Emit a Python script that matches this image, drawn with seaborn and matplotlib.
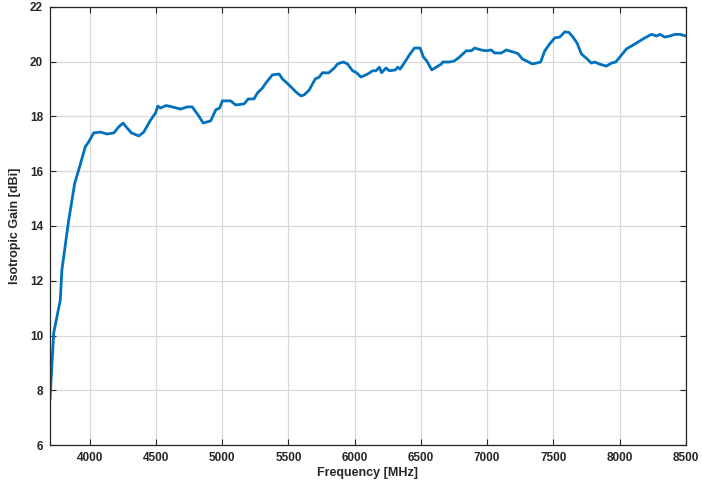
import numpy as np
import pandas as pd
import seaborn as sns
import matplotlib
matplotlib.use("Agg")
import matplotlib.pyplot as plt

# values
freq_mhz = [3700, 3728, 3778, 3790, 3841, 3887, 3917, 3967, 3992, 4030,
            4081, 4131, 4182, 4219, 4252, 4275, 4315, 4371, 4408, 4459,
            4497, 4514, 4535, 4577, 4623, 4686, 4736, 4774, 4819, 4857,
            4913, 4951, 4981, 5001, 5064, 5102, 5165, 5197, 5240, 5266,
            5304, 5329, 5379, 5430, 5455, 5505, 5556, 5594, 5619, 5657,
            5702, 5732, 5757, 5803, 5846, 5871, 5914, 5946, 5984, 6014,
            6047, 6098, 6135, 6161, 6186, 6203, 6237, 6262, 6307, 6325,
            6343, 6375, 6413, 6451, 6494, 6519, 6544, 6582, 6615, 6653,
            6665, 6715, 6753, 6791, 6842, 6880, 6905, 6955, 6993, 7031,
            7056, 7107, 7145, 7194, 7232, 7266, 7296, 7341, 7371, 7404,
            7434, 7472, 7510, 7548, 7586, 7618, 7648, 7679, 7712, 7749,
            7787, 7812, 7850, 7900, 7938, 7971, 8001, 8052, 8102, 8153,
            8190, 8241, 8279, 8304, 8342, 8380, 8418, 8456, 8500]
gain_dbi = [7.65, 10.09, 11.3, 12.4, 14.2, 15.57, 16.05, 16.9, 17.07, 17.4,
            17.43, 17.36, 17.4, 17.62, 17.76, 17.62, 17.4, 17.29, 17.43, 17.87,
            18.13, 18.38, 18.31, 18.4, 18.35, 18.27, 18.35, 18.35, 18.05, 17.76,
            17.84, 18.24, 18.31, 18.57, 18.57, 18.42, 18.46, 18.64, 18.64, 18.86,
            19.04, 19.22, 19.52, 19.55, 19.37, 19.15, 18.9, 18.75, 18.79, 18.97,
            19.37, 19.44, 19.6, 19.59, 19.77, 19.92, 19.99, 19.92, 19.67, 19.6,
            19.44, 19.55, 19.67, 19.67, 19.8, 19.6, 19.77, 19.67, 19.7, 19.8,
            19.73, 19.96, 20.25, 20.5, 20.5, 20.17, 20.03, 19.7, 19.8, 19.91,
            19.99, 19.99, 20.03, 20.17, 20.4, 20.4, 20.5, 20.43, 20.4, 20.43,
            20.32, 20.32, 20.43, 20.36, 20.3, 20.1, 20.03, 19.92, 19.95, 19.99,
            20.39, 20.65, 20.87, 20.9, 21.09, 21.07, 20.9, 20.68, 20.28, 20.13,
            19.95, 19.99, 19.91, 19.84, 19.95, 19.99, 20.17, 20.47, 20.61, 20.76,
            20.87, 21.0, 20.94, 21.0, 20.9, 20.94, 21.0, 21.0, 20.94]

x_ticks = [4000, 4500, 5000, 5500, 6000, 6500, 7000, 7500, 8000, 8500]
y_ticks = [6, 8, 10, 12, 14, 16, 18, 20, 22]

df = pd.DataFrame({"freq": freq_mhz, "gain": gain_dbi})

sns.set_style("whitegrid")
plt.rcParams["font.family"] = ["Liberation Sans", "DejaVu Sans"]

fig = plt.figure(figsize=(7.02, 4.88), dpi=100)
ax = fig.add_axes([0.0712, 0.0881, 0.9058, 0.8976])

sns.lineplot(data=df, x="freq", y="gain", ax=ax, color="#0072BD",
             linewidth=2.0)

ax.set_xlim(3700, 8500)
ax.set_ylim(6, 22)
ax.set_xticks(x_ticks)
ax.set_yticks(y_ticks)
ax.grid(True, color="#d9d9d9", linewidth=0.9)
for s in ax.spines.values():
    s.set_color("#262626")
    s.set_linewidth(0.9)
ax.tick_params(direction="in", length=4, width=0.8, color="#262626",
               top=True, right=True, bottom=True, left=True,
               labelsize=8.5, labelcolor="#262626", pad=5)
for lab in ax.get_xticklabels() + ax.get_yticklabels():
    lab.set_fontweight("bold")
ax.set_xlabel("Frequency [MHz]", fontsize=9, fontweight="bold",
              color="#262626", labelpad=2)
ax.set_ylabel("Isotropic Gain [dBi]", fontsize=9, fontweight="bold",
              color="#262626", labelpad=6)

fig.savefig("out.png", dpi=100)
